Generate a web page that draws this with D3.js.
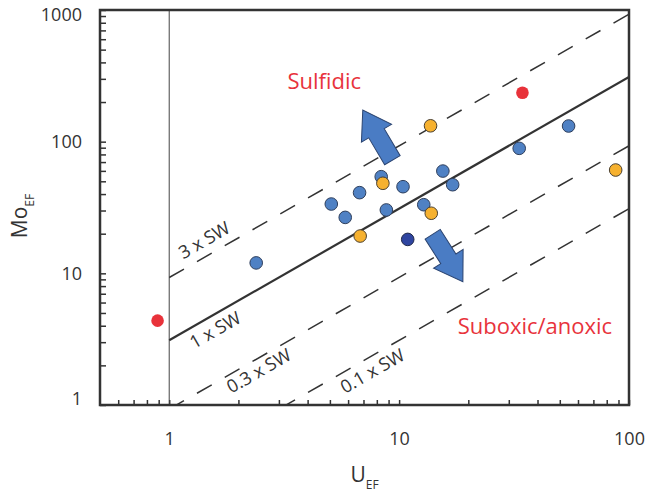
<!DOCTYPE html>
<html>
<head>
<meta charset="utf-8">
<script src="https://cdn.jsdelivr.net/npm/d3@7"></script>
<style>
body { margin: 0; background: #fff; }
text { font-family: "Open Sans", sans-serif; }
</style>
</head>
<body>
<script>
var width = 652,
    height = 492;

// plot box
var plotLeft = 100, plotRight = 629, plotTop = 10, plotBottom = 405;

// data (U_EF, Mo_EF)
var blueU   = [2.39, 5.07, 5.83, 6.73, 8.36, 8.80, 10.4, 12.8, 15.5, 17.1, 33.3, 54.6];
var blueMo  = [12.0, 33.6, 26.6, 41.0, 54.2, 30.3, 45.5, 33.2, 59.8, 47.1, 89.0, 131.5];
var orangeU  = [6.77, 8.50, 13.8, 13.7, 87.5];
var orangeMo = [19.2, 48.3, 28.6, 132, 60.9];
var redU  = [0.89, 34.4];
var redMo = [4.37, 235];
var darkU  = [10.9];
var darkMo = [18.1];

// seawater Mo/U lines
var swRatio = 3.1;
var swMult = [3, 1, 0.3, 0.1];
var swLabels = ["3 x SW", "1 x SW", "0.3 x SW", "0.1 x SW"];
var swLabelU = [1.53, 1.48, 2.32, 7.16];
var swLabelOffset = [-15, 14, 11.3, 13.4];

var xTicks = [1, 10, 100];
var yTicks = [1, 10, 100, 1000];

var x = d3.scaleLog().domain([0.5, 100]).range([plotLeft, plotRight]);
var y = d3.scaleLog().domain([1, 1000]).range([plotBottom, plotTop]);

var svg = d3.select("body").append("svg")
    .attr("width", width)
    .attr("height", height);

svg.append("defs").append("clipPath").attr("id", "plotclip")
  .append("rect")
    .attr("x", plotLeft).attr("y", plotTop)
    .attr("width", plotRight - plotLeft).attr("height", plotBottom - plotTop);

// minor tick values
var xMinor = [], yMinor = [];
[0.1, 1, 10].forEach(function(d) {
    for (var k = 1; k <= 9; k++) { var v = +(d * k).toPrecision(3); if (v > 0.5 && v <= 100) xMinor.push(v); }
});
xMinor.push(100);
[1, 10, 100].forEach(function(d) {
    for (var k = 1; k <= 9; k++) yMinor.push(d * k);
});
yMinor.push(1000);

var fmt = function(d) { return xTicks.concat(yTicks).indexOf(d) >= 0 ? String(d) : ""; };

var yAxis = svg.append("g")
    .attr("transform", "translate(" + plotLeft + ",0)")
    .call(d3.axisLeft(y).tickValues(yMinor).tickFormat(fmt).tickSizeInner(-6).tickSizeOuter(0).tickPadding(18));
yAxis.select(".domain").remove();
yAxis.selectAll("line").attr("stroke", "#333").attr("stroke-width", 1.5);
yAxis.selectAll("text")
    .attr("font-size", 18).attr("fill", "#333")
    .attr("font-family", "'Open Sans', sans-serif")
    .attr("dy", function(d) { return d === 1000 ? "0.6em" : d === 1 ? "-0.05em" : "0.32em"; });

var xAxis = svg.append("g")
    .attr("transform", "translate(0," + plotBottom + ")")
    .call(d3.axisBottom(x).tickValues(xMinor).tickFormat(fmt).tickSizeInner(-5).tickSizeOuter(0).tickPadding(27));
xAxis.select(".domain").remove();
xAxis.selectAll("line").attr("stroke", "#333").attr("stroke-width", 1.5);
xAxis.selectAll("text")
    .attr("font-size", 18).attr("fill", "#333")
    .attr("font-family", "'Open Sans', sans-serif");

// vertical line at U = 1
svg.append("line")
    .attr("x1", x(1)).attr("x2", x(1))
    .attr("y1", plotTop).attr("y2", plotBottom)
    .attr("stroke", "#444").attr("stroke-width", 1);

// SW lines
var lines = svg.append("g").attr("clip-path", "url(#plotclip)");
swMult.forEach(function(m, i) {
    lines.append("line")
        .attr("x1", x(1)).attr("y1", y(m * swRatio * 1))
        .attr("x2", x(100)).attr("y2", y(m * swRatio * 100))
        .attr("stroke", "#333")
        .attr("stroke-width", m === 1 ? 2.2 : 1.5)
        .attr("stroke-dasharray", m === 1 ? null : "17,15");
});

var ang = Math.atan2(y(10) - y(1), x(10) - x(1)) * 180 / Math.PI;
swLabels.forEach(function(t, i) {
    var px = x(swLabelU[i]), py = y(swMult[i] * swRatio * swLabelU[i]);
    svg.append("text")
        .attr("transform", "translate(" + px + "," + py + ") rotate(" + ang + ")")
        .attr("y", swLabelOffset[i])
        .attr("dy", "0.35em")
        .attr("text-anchor", "middle")
        .attr("font-size", 18)
        .attr("fill", "#333")
        .text(t);
});

// arrows (tail -> tip in data space)
var arrows = [
    {tail: [9.35, 72.3], tip: [6.95, 174]},
    {tail: [14.0, 19.8], tip: [18.94, 8.65]}
];
function arrowPath(len) {
    var s = 9, H = 17.5, h = 27;
    return d3.line()([[0, -s], [len - h, -s], [len - h, -H], [len, 0], [len - h, H], [len - h, s], [0, s]]) + "Z";
}
arrows.forEach(function(a) {
    var x0 = x(a.tail[0]), y0 = y(a.tail[1]), x1 = x(a.tip[0]), y1 = y(a.tip[1]);
    var len = Math.hypot(x1 - x0, y1 - y0);
    var r = Math.atan2(y1 - y0, x1 - x0) * 180 / Math.PI;
    svg.append("path")
        .attr("d", arrowPath(len))
        .attr("transform", "translate(" + x0 + "," + y0 + ") rotate(" + r + ")")
        .attr("fill", "#4a7cc4")
        .attr("stroke", "#2b4470")
        .attr("stroke-width", 1);
});

// points
function drawPoints(us, mos, fill, stroke) {
    svg.append("g").selectAll("circle")
        .data(us.map(function(u, i) { return [u, mos[i]]; }))
        .enter().append("circle")
        .attr("cx", function(d) { return x(d[0]); })
        .attr("cy", function(d) { return y(d[1]); })
        .attr("r", 6.3)
        .attr("fill", fill)
        .attr("stroke", stroke)
        .attr("stroke-width", stroke === "none" ? 0 : 1);
}
drawPoints(blueU, blueMo, "#4f81c4", "#2f3f5c");
drawPoints(orangeU, orangeMo, "#f6b12f", "#4a4030");
drawPoints(darkU, darkMo, "#2f45a0", "#222a4a");
drawPoints(redU, redMo, "#e8323a", "none");

// zone labels
svg.append("text")
    .attr("x", x(3.27)).attr("y", y(251))
    .attr("font-size", 22).attr("fill", "#e8333c")
    .text("Sulfidic");
svg.append("text")
    .attr("x", x(17.98)).attr("y", y(3.46))
    .attr("font-size", 22).attr("fill", "#e8333c")
    .text("Suboxic/anoxic");

// frame
svg.append("rect")
    .attr("x", plotLeft).attr("y", plotTop)
    .attr("width", plotRight - plotLeft).attr("height", plotBottom - plotTop)
    .attr("fill", "none").attr("stroke", "#333").attr("stroke-width", 2.5);

// axis titles
var xt = svg.append("text")
    .attr("x", (plotLeft + plotRight) / 2).attr("y", 482)
    .attr("text-anchor", "middle").attr("font-size", 21).attr("fill", "#333");
xt.append("tspan").text("U");
xt.append("tspan").attr("font-size", 12).attr("dy", 7).text("EF");

var yt = svg.append("text")
    .attr("transform", "translate(27,216) rotate(-90)")
    .attr("text-anchor", "middle").attr("font-size", 21).attr("fill", "#333");
yt.append("tspan").text("Mo");
yt.append("tspan").attr("font-size", 12).attr("dy", 7).text("EF");
</script>
</body>
</html>
